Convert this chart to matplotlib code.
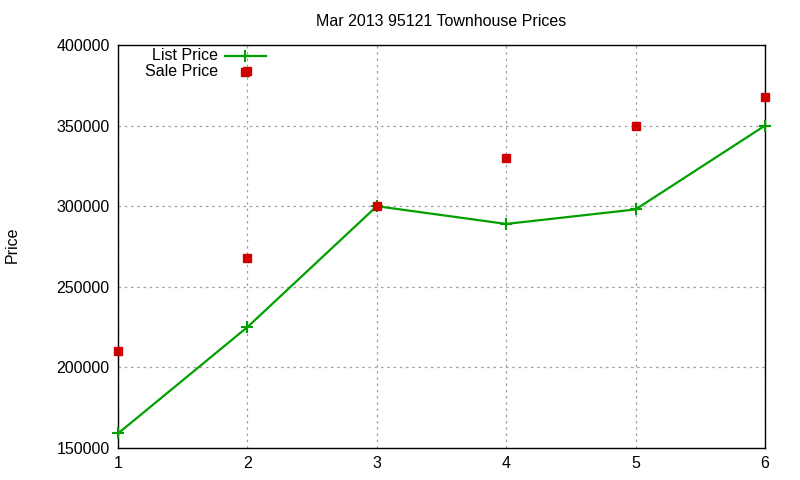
import matplotlib
matplotlib.use("Agg")
import matplotlib.pyplot as plt
from matplotlib.lines import Line2D

plt.rcParams['font.family'] = ['Liberation Sans', 'DejaVu Sans']

list_x = [1, 2, 3, 4, 5, 6]
list_price = [159000, 225000, 300000, 289000, 298000, 350000]
sale_x = [1, 2, 2, 3, 4, 5, 6]
sale_price = [210000, 268000, 384000, 300000, 330000, 350000, 368000]
x_ticks = [1, 2, 3, 4, 5, 6]
y_ticks = [150000, 200000, 250000, 300000, 350000, 400000]

fig = plt.figure(figsize=(8, 4.8), dpi=100)
ax = fig.add_axes([118/800, 1-448/480, (765-118)/800, (448-45)/480])

green = '#00a000'
red = '#d00000'
fs = 11.5

ax.plot(list_x, list_price, color=green, lw=1.6, marker='+', ms=8, mew=1.5, zorder=3, clip_on=False)
ax.plot(sale_x, sale_price, ls='none', marker='s', ms=6, color=red, mec=red, zorder=4, clip_on=False)

ax.set_xlim(1, 6)
ax.set_ylim(150000, 400000)
ax.set_xticks(x_ticks)
ax.set_yticks(y_ticks)
ax.set_xticklabels([str(v) for v in x_ticks])
ax.set_yticklabels([str(v) for v in y_ticks])
ax.tick_params(length=0, labelsize=fs, pad=6)
ax.grid(True, color='#a0a0a0', ls=(0, (2, 3)), lw=0.9)
for s in ax.spines.values():
    s.set_linewidth(1.0)
    s.set_color('black')

ax.set_title('Mar 2013 95121 Townhouse Prices', fontsize=fs, pad=14)
fig.text(12/800, 1-245/480, 'Price', rotation=90, fontsize=fs, ha='center', va='center')

# legend (gnuplot style, right-aligned text, sample to the right)
def fx(px):
    return (px - 118) / (765 - 118)
def fy(py):
    return (448 - py) / (448 - 45)

ax.text(fx(218), fy(56), 'List Price', transform=ax.transAxes, ha='right', va='center', fontsize=fs)
ax.text(fx(218), fy(72), 'Sale Price', transform=ax.transAxes, ha='right', va='center', fontsize=fs)
ax.add_line(Line2D([fx(225), fx(266)], [fy(56), fy(56)], transform=ax.transAxes, color=green, lw=1.6, clip_on=False))
ax.add_line(Line2D([fx(245)], [fy(56)], transform=ax.transAxes, marker='+', ms=8, mew=1.5, color=green, clip_on=False))
ax.add_line(Line2D([fx(245)], [fy(72)], transform=ax.transAxes, marker='s', ms=6, color=red, mec=red, ls='none', clip_on=False))

fig.savefig('out.png', dpi=100)
